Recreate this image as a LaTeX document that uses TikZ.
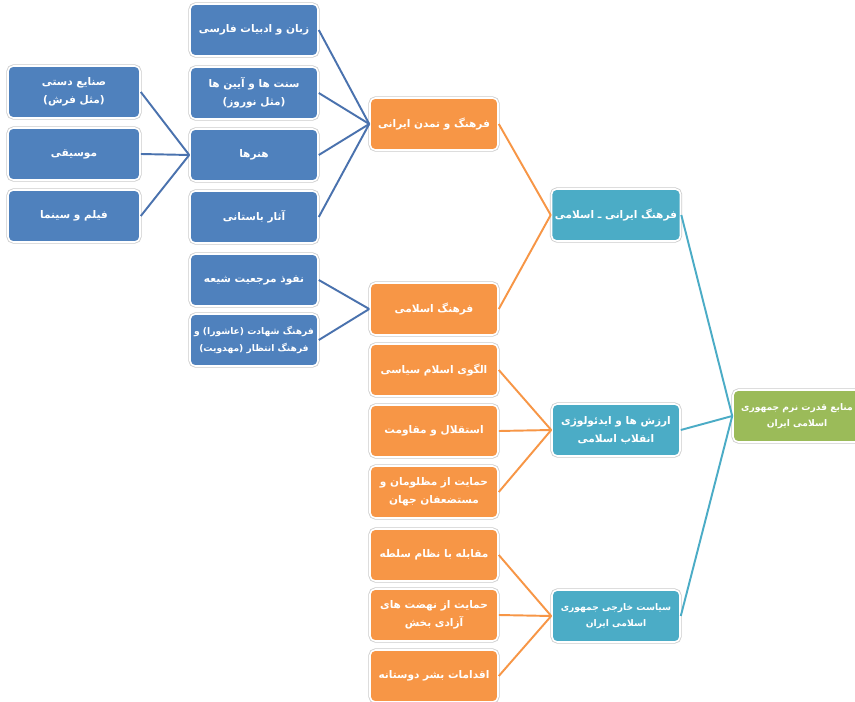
\documentclass[tikz,border=0pt]{standalone}
\usepackage{fontspec}
\newfontfamily\arabicfont[Script=Arabic]{DejaVu Sans}
\TeXXeTstate=1
\newcommand{\fa}[1]{\beginR #1\endR}
\definecolor{boxBlue}{HTML}{4F81BD}
\definecolor{boxOrange}{HTML}{F79646}
\definecolor{boxTeal}{HTML}{4BACC6}
\definecolor{boxGreen}{HTML}{9BBB59}
\definecolor{lineBlue}{HTML}{4A72AE}

\begin{document}
\begin{tikzpicture}[x=0.02cm,y=-0.02cm,
			box/.style={shape=rectangle, rounded corners=3pt, draw=white, line width=0.9pt,
				preaction={draw=gray!40, line width=1.8pt},
				text=white, align=center, inner sep=2pt,
				font=\fontsize{6}{10}\selectfont\arabicfont\bfseries,
				minimum width=2.56cm, minimum height=1.04cm},
			smallText/.style={font=\fontsize{5.2}{9.5}\selectfont\arabicfont\bfseries},
			blueBox/.style={box, fill=boxBlue},
			orangeBox/.style={box, fill=boxOrange},
			tealBox/.style={box, fill=boxTeal},
			greenBox/.style={box, fill=boxGreen},
			blueLink/.style={draw=lineBlue, line width=1.1pt},
			orangeLink/.style={draw=boxOrange, line width=1.1pt},
			tealLink/.style={draw=boxTeal, line width=1.1pt}]
  \useasboundingbox[fill=white] (0,0) rectangle (855,702);
  % first column
  \node[blueBox, minimum width=2.64cm] (craft) at (74,92) {\fa{صنایع دستی}\\\fa{(مثل فرش)}};
  \node[blueBox, minimum width=2.64cm] (music) at (74,154) {\fa{موسیقی}};
  \node[blueBox, minimum width=2.64cm] (film) at (74,216) {\fa{فیلم و سینما}};
  % second column
  \node[blueBox] (lang) at (254,30) {\fa{زبان و ادبیات فارسی}};
  \node[blueBox] (ritual) at (254,93) {\fa{سنت ها و آیین ها}\\\fa{(مثل نوروز)}};
  \node[blueBox] (arts) at (254,155) {\fa{هنرها}};
  \node[blueBox] (relic) at (254,217) {\fa{آثار باستانی}};
  \node[blueBox] (shia) at (254,280) {\fa{نفوذ مرجعیت شیعه}};
  \node[blueBox, smallText] (martyr) at (254,340) {\fa{فرهنگ شهادت (عاشورا) و}\\\fa{فرهنگ انتظار (مهدویت)}};
  % third column
  \node[orangeBox] (iranCult) at (434,124) {\fa{فرهنگ و تمدن ایرانی}};
  \node[orangeBox] (islamCult) at (434,309) {\fa{فرهنگ اسلامی}};
  \node[orangeBox] (model) at (434,370) {\fa{الگوی اسلام سیاسی}};
  \node[orangeBox] (indep) at (434,431) {\fa{استقلال و مقاومت}};
  \node[orangeBox] (oppressed) at (434,492) {\fa{حمایت از مظلومان و}\\\fa{مستضعفان جهان}};
  \node[orangeBox] (hegemony) at (434,555) {\fa{مقابله با نظام سلطه}};
  \node[orangeBox] (liberation) at (434,615) {\fa{حمایت از نهضت های}\\\fa{آزادی بخش}};
  \node[orangeBox] (humane) at (434,676) {\fa{اقدامات بشر دوستانه}};
  % fourth column
  \node[tealBox] (culture) at (616,215) {\fa{فرهنگ ایرانی ـ اسلامی}};
  \node[tealBox] (values) at (616,430) {\fa{ارزش ها و ایدئولوژی}\\\fa{انقلاب اسلامی}};
  \node[tealBox, smallText] (policy) at (616,616) {\fa{سیاست خارجی جمهوری}\\\fa{اسلامی ایران}};
  % root
  \node[greenBox, smallText] (root) at (797,416) {\fa{منابع قدرت نرم جمهوری}\\\fa{اسلامی ایران}};

  \foreach \a in {craft,music,film} \draw[blueLink] (\a.east) -- (arts.west);
  \foreach \a in {lang,ritual,arts,relic} \draw[blueLink] (\a.east) -- (iranCult.west);
  \foreach \a in {shia,martyr} \draw[blueLink] (\a.east) -- (islamCult.west);
  \foreach \a in {iranCult,islamCult} \draw[orangeLink] (\a.east) -- (culture.west);
  \foreach \a in {model,indep,oppressed} \draw[orangeLink] (\a.east) -- (values.west);
  \foreach \a in {hegemony,liberation,humane} \draw[orangeLink] (\a.east) -- (policy.west);
  \foreach \a in {culture,values,policy} \draw[tealLink] (\a.east) -- (root.west);
\end{tikzpicture}
\end{document}
